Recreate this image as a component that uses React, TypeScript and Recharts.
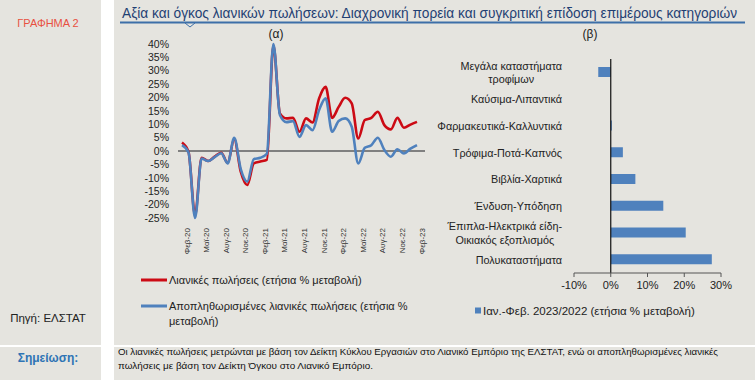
import React from 'react';
import { LineChart, Line, XAxis, YAxis, ReferenceLine, BarChart, Bar } from 'recharts';

// monthly data, Feb 2020 - Feb 2023
const months = [
  'Φεβ-20', 'Μαρ-20', 'Απρ-20', 'Μαϊ-20', 'Ιουν-20', 'Ιουλ-20', 'Αυγ-20', 'Σεπ-20', 'Οκτ-20', 'Νοε-20', 'Δεκ-20',
  'Ιαν-21', 'Φεβ-21', 'Μαρ-21', 'Απρ-21', 'Μαϊ-21', 'Ιουν-21', 'Ιουλ-21', 'Αυγ-21', 'Σεπ-21', 'Οκτ-21', 'Νοε-21', 'Δεκ-21',
  'Ιαν-22', 'Φεβ-22', 'Μαρ-22', 'Απρ-22', 'Μαϊ-22', 'Ιουν-22', 'Ιουλ-22', 'Αυγ-22', 'Σεπ-22', 'Οκτ-22', 'Νοε-22', 'Δεκ-22',
  'Ιαν-23', 'Φεβ-23',
];
const retailSales = [
  3.2, -0.3, -24.0, -2.5, -3.7, -2.1, -0.6, -4.4, 4.5, -7.7, -12.7, -4.6, -3.9, -3.3, 39.5, 14.1, 12.2, 12.4, 7.2,
  12.2, 10.7, 19.7, 24.0, 12.4, 16.5, 19.9, 17.8, 4.7, 11.6, 12.4, 14.7, 9.7, 8.1, 12.4, 8.7, 9.9, 10.9,
];
const deflatedSales = [
  2.2, -0.5, -25.0, -2.8, -3.7, -2.3, -0.8, -4.6, 5.0, -6.7, -11.4, -3.0, -2.5, -1.0, 40.0, 13.5, 10.8, 11.2, 5.3,
  9.7, 7.8, 15.3, 19.7, 7.2, 11.2, 12.2, 9.1, -4.6, 1.2, 2.2, 5.0, 0.4, -2.1, 0.7, -0.9, 0.9, 2.2,
];
const yTicks = [-25, -20, -15, -10, -5, 0, 5, 10, 15, 20, 25, 30, 35, 40];

// categories, top to bottom
const categories = [
  'Μεγάλα καταστήματα\nτροφίμων',
  'Καύσιμα-Λιπαντικά',
  'Φαρμακευτικά-Καλλυντικά',
  'Τρόφιμα-Ποτά-Καπνός',
  'Βιβλία-Χαρτικά',
  'Ένδυση-Υπόδηση',
  'Έπιπλα-Ηλεκτρικά είδη-\nΟικιακός εξοπλισμός',
  'Πολυκαταστήματα',
];
const janFebChange = [-3.4, 0.0, 0.3, 3.3, 6.7, 14.3, 20.4, 27.5];
const barTicks = [-10, 0, 10, 20, 30];

const lineData = months.map((m, i) => ({ month: m, retail: retailSales[i], deflated: deflatedSales[i] }));
const barData = categories.map((c, i) => ({ name: c, value: janFebChange[i] }));

const FONT = '"Liberation Sans", Arial, sans-serif';
const BG = '#e5e4df';
const RED = '#cc0a14';
const BLUE = '#4f81bd';

let ctx: CanvasRenderingContext2D | null = null;
function textWidth(s: string, size: number) {
  if (!ctx) ctx = document.createElement('canvas').getContext('2d');
  if (!ctx) return s.length * size * 0.5;
  ctx.font = `${size}px ${FONT}`;
  return ctx.measureText(s).width;
}

const MonthTick = ({ x, y, payload }: any) => (
  <text
    x={0}
    y={0}
    transform={`translate(${x + 5},${y + 2}) rotate(-90)`}
    textAnchor="end"
    dominantBaseline="central"
    fontSize={8}
    fill="#333"
    fontFamily={FONT}
  >
    {payload.value}
  </text>
);

const CategoryTick = ({ x, y, payload }: any) => {
  const lines = String(payload.value).split('\n');
  const size = 10.8;
  if (lines.length === 1) {
    return (
      <text x={x} y={y} textAnchor="end" dominantBaseline="central" fontSize={size} fill="#222" fontFamily={FONT}>
        {lines[0]}
      </text>
    );
  }
  const w = Math.max(...lines.map((l) => textWidth(l, size)));
  const cx = x - w / 2;
  return (
    <text textAnchor="middle" fontSize={size} fill="#222" fontFamily={FONT}>
      {lines.map((l, i) => (
        <tspan key={i} x={cx} y={y + (i - (lines.length - 1) / 2) * 13.3} dominantBaseline="central">
          {l}
        </tspan>
      ))}
    </text>
  );
};

const abs = (l: number, t: number, w: number, h: number, extra: React.CSSProperties = {}): React.CSSProperties => ({
  position: 'absolute', left: l, top: t, width: w, height: h, ...extra,
});

export default function App() {
  return (
    <div style={{ position: 'absolute', left: 0, top: 0, width: 755, height: 380, background: '#fff', fontFamily: FONT, overflow: 'hidden' }}>
      {/* panels */}
      <div style={abs(0, 0, 101, 345, { background: BG })} />
      <div style={abs(114, 0, 641, 345, { background: BG })} />
      <div style={abs(0, 347, 101, 33, { background: BG })} />
      <div style={abs(114, 347, 641, 33, { background: BG })} />

      {/* static texts */}
      <svg width={755} height={380} style={{ position: 'absolute', left: 0, top: 0 }}>
        <text x={48} y={23} textAnchor="middle" dominantBaseline="central" fontSize={11} fill="#e8503f" fontFamily={FONT}>ΓΡΑΦΗΜΑ 2</text>
        <text x={48} y={318} textAnchor="middle" dominantBaseline="central" fontSize={11.5} fill="#222" fontFamily={FONT}>Πηγή: ΕΛΣΤΑΤ</text>
        <text x={48} y={358} textAnchor="middle" dominantBaseline="central" fontSize={12} fontWeight="bold" fill="#2e74b5" fontFamily={FONT}>Σημείωση:</text>
        <text x={122} y={18} fontSize={14} fill="#1f3f73" fontFamily={FONT} textLength={615} lengthAdjust="spacingAndGlyphs">
          Αξία και όγκος λιανικών πωλήσεων: Διαχρονική πορεία και συγκριτική επίδοση επιμέρους κατηγοριών
        </text>
        <line x1={120} y1={22.5} x2={745} y2={22.5} stroke="#3d6fa8" strokeWidth={2} />
        <polyline points="185,23 190,27 195,23" fill="none" stroke="#3d6fa8" strokeWidth={1} />
        <text x={276} y={34} textAnchor="middle" dominantBaseline="central" fontSize={12} fill="#222" fontFamily={FONT}>(α)</text>
        <text x={590} y={34} textAnchor="middle" dominantBaseline="central" fontSize={12} fill="#222" fontFamily={FONT}>(β)</text>
        <text x={118} y={355} fontSize={9} fill="#111" fontFamily={FONT} textLength={600} lengthAdjust="spacingAndGlyphs">
          Οι λιανικές πωλήσεις μετρώνται με βάση τον Δείκτη Κύκλου Εργασιών στο Λιανικό Εμπόριο της ΕΛΣΤΑΤ, ενώ οι αποπληθωρισμένες λιανικές
        </text>
        <text x={118} y={369} fontSize={9} fill="#111" fontFamily={FONT} textLength={255} lengthAdjust="spacingAndGlyphs">
          πωλήσεις με βάση τον Δείκτη Όγκου στο Λιανικό Εμπόριο.
        </text>

        {/* legend (α) */}
        <line x1={141} y1={280} x2={167} y2={280} stroke={RED} strokeWidth={3} />
        <text x={169} y={280} dominantBaseline="central" fontSize={11} fill="#222" fontFamily={FONT}>Λιανικές πωλήσεις (ετήσια % μεταβολή)</text>
        <line x1={141} y1={306} x2={167} y2={306} stroke={BLUE} strokeWidth={3} />
        <text x={169} y={306} dominantBaseline="central" fontSize={11} fill="#222" fontFamily={FONT}>Αποπληθωρισμένες λιανικές πωλήσεις (ετήσια %</text>
        <text x={169} y={321} dominantBaseline="central" fontSize={11} fill="#222" fontFamily={FONT}>μεταβολή)</text>

        {/* legend (β) */}
        <rect x={475} y={307.5} width={6} height={6} fill={BLUE} />
        <text x={483} y={311} dominantBaseline="central" fontSize={11.5} fill="#222" fontFamily={FONT}>Ιαν.-Φεβ. 2023/2022 (ετήσια % μεταβολή)</text>
      </svg>

      {/* (α) line chart */}
      <div style={abs(120, 30, 320, 240)}>
        <LineChart width={320} height={240} data={lineData} margin={{ top: 14, right: 15, bottom: 7, left: 0 }}>
          <XAxis
            dataKey="month"
            interval={2}
            axisLine={false}
            tickLine={false}
            height={45}
            padding={{ left: 4, right: 8 }}
            tick={<MonthTick />}
          />
          <YAxis
            domain={[-25, 40]}
            ticks={yTicks}
            interval={0}
            width={58}
            axisLine={false}
            tickLine={false}
            tickMargin={3}
            tickFormatter={(v: number) => `${v}%`}
            tick={{ fontSize: 10.5, fill: '#222', fontFamily: FONT }}
          />
          <ReferenceLine y={0} stroke="#808080" strokeWidth={2} />
          <Line type="monotone" dataKey="retail" stroke={RED} strokeWidth={2.6} dot={false} isAnimationActive={false} />
          <Line type="monotone" dataKey="deflated" stroke={BLUE} strokeWidth={2.6} dot={false} isAnimationActive={false} />
        </LineChart>
      </div>

      {/* (β) bar chart */}
      <div style={abs(420, 40, 320, 280)}>
        <BarChart width={320} height={280} data={barData} layout="vertical" margin={{ top: 19, right: 19, bottom: 17, left: 20 }}>
          <XAxis
            type="number"
            domain={[-10, 30]}
            ticks={barTicks}
            height={30}
            stroke="#555"
            tickSize={4}
            tickMargin={4}
            tickFormatter={(v: number) => `${v}%`}
            tick={{ fontSize: 11, fill: '#222', fontFamily: FONT }}
          />
          <YAxis
            type="category"
            dataKey="name"
            width={134}
            interval={0}
            axisLine={false}
            tickLine={false}
            tickSize={0}
            tickMargin={12}
            tick={<CategoryTick />}
          />
          <ReferenceLine x={0} stroke="#111" strokeWidth={1.2} />
          <Bar dataKey="value" fill={BLUE} barSize={10} isAnimationActive={false} />
        </BarChart>
      </div>
    </div>
  );
}
